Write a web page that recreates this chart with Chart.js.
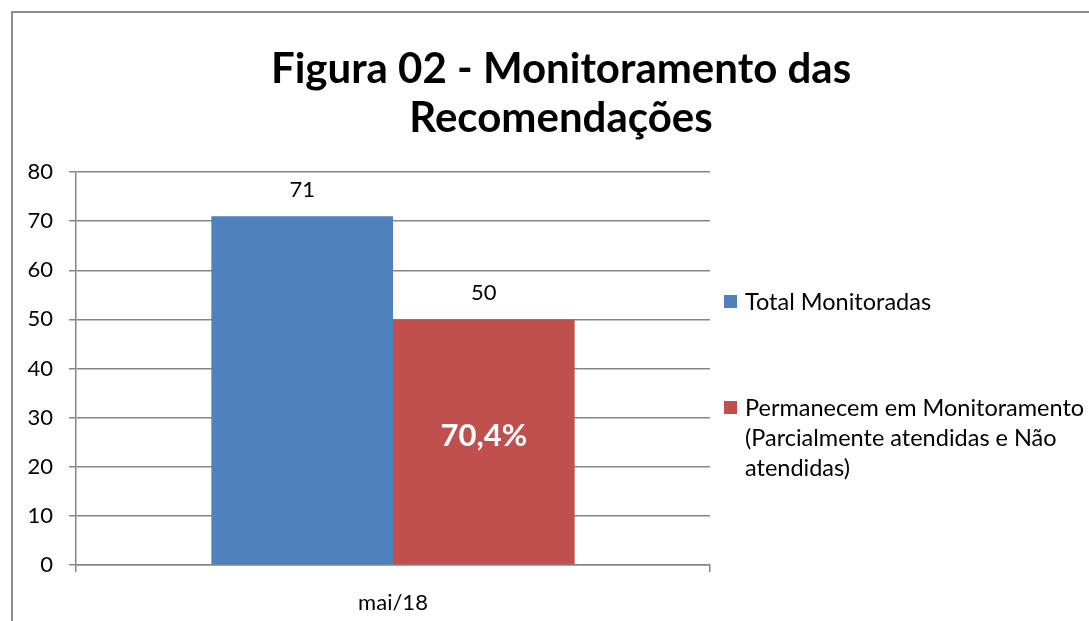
<!DOCTYPE html>
<html>
<head>
<meta charset="utf-8">
<script src="https://cdn.jsdelivr.net/npm/chart.js@4.4.0/dist/chart.umd.min.js"></script>
<style>
    html, body { margin: 0; padding: 0; background: #fff; overflow: hidden; }
    #frame {
        position: absolute; left: 11px; top: 11px;
        border-top: 2px solid #8c8c8c; border-left: 2px solid #8c8c8c;
    }
    #box { position: relative; width: 1096px; height: 608px; }
</style>
</head>
<body>
<div id="frame"><div id="box"><canvas id="chart"></canvas></div></div>
<script>
// --- Datos ---
const categorias = ["mai/18"];
const totalMonitoradas = [71];
const permanecem = [50];
const yTicks = [0, 10, 20, 30, 40, 50, 60, 70, 80];
const tituloLinhas = ["Figura 02 - Monitoramento das", "Recomendações"];
const legendaTotal = ["Total Monitoradas"];
const legendaPerm = ["Permanecem em Monitoramento", "(Parcialmente atendidas e Não", "atendidas)"];

const FONT = "Lato, 'Open Sans', sans-serif";
const GRID = "#868686";
const TXT = 22;

// porcentagem que permanece, tal como no original
const pct = (permanecem[0] / totalMonitoradas[0] * 100).toFixed(1).replace(".", ",") + "%";

// título, rótulos de valor e legenda desenhados à mão
const rotulos = {
    id: "rotulos",
    afterDatasetsDraw(chart) {
        const ctx = chart.ctx;
        ctx.save();
        ctx.textAlign = "center";
        ctx.textBaseline = "middle";
        chart.data.datasets.forEach((ds, i) => {
            chart.getDatasetMeta(i).data.forEach((bar, j) => {
                ctx.fillStyle = "#000";
                ctx.font = TXT + "px " + FONT;
                ctx.fillText(ds.data[j], bar.x, bar.y - 26);
            });
        });
        // porcentagem dentro da barra vermelha
        const red = chart.getDatasetMeta(1).data[0];
        ctx.fillStyle = "#fff";
        ctx.font = "bold 31px " + FONT;
        ctx.fillText(pct, red.x, (red.y + red.base) / 2 - 6);
        ctx.restore();
    },
    afterDraw(chart) {
        const ctx = chart.ctx;
        const a = chart.chartArea;
        ctx.save();
        // título centrado no quadro todo
        ctx.fillStyle = "#000";
        ctx.textAlign = "center";
        ctx.textBaseline = "middle";
        ctx.font = "bold 42px " + FONT;
        tituloLinhas.forEach((t, k) => ctx.fillText(t, chart.width / 2, 56 + k * 49));

        // legenda
        const bx = a.right + 14, tx = a.right + 35;
        const items = [
            { lines: legendaTotal, color: chart.data.datasets[0].backgroundColor, y: a.top + 130 },
            { lines: legendaPerm, color: chart.data.datasets[1].backgroundColor, y: a.top + 236 }
        ];
        ctx.font = "23.5px " + FONT;
        ctx.textAlign = "left";
        items.forEach(it => {
            ctx.fillStyle = it.color;
            ctx.fillRect(bx, it.y - 7, 13, 13);
            ctx.fillStyle = "#000";
            it.lines.forEach((t, k) => ctx.fillText(t, tx, it.y + k * 30));
        });
        ctx.restore();
    }
};

new Chart(document.getElementById("chart"), {
    type: "bar",
    data: {
        labels: categorias,
        datasets: [
            { label: legendaTotal.join(" "), data: totalMonitoradas, backgroundColor: "#4F81BD",
              categoryPercentage: 0.573, barPercentage: 1 },
            { label: legendaPerm.join(" "), data: permanecem, backgroundColor: "#C0504D",
              categoryPercentage: 0.573, barPercentage: 1 }
        ]
    },
    options: {
        responsive: true,
        maintainAspectRatio: false,
        animation: false,
        layout: { padding: { top: 159, right: 399, bottom: 0, left: 0 } },
        plugins: {
            legend: { display: false },
            tooltip: { enabled: false },
            title: { display: false }
        },
        scales: {
            x: {
                grid: { display: true, drawOnChartArea: false, drawTicks: true, tickLength: 7,
                        color: GRID, lineWidth: 1.5, offset: true },
                border: { display: true, color: GRID, width: 1.5 },
                ticks: { color: "#000", font: { family: FONT, size: TXT }, padding: 18 },
                afterFit: s => { s.height = 56; }
            },
            y: {
                min: 0, max: 80,
                afterBuildTicks: s => { s.ticks = yTicks.map(v => ({ value: v })); },
                grid: { color: GRID, lineWidth: 1.5, tickLength: 7 },
                border: { display: true, color: GRID, width: 1.5 },
                ticks: { color: "#000", font: { family: FONT, size: TXT }, padding: 16 },
                afterFit: s => { s.width = 63; }
            }
        }
    },
    plugins: [rotulos]
});
</script>
</body>
</html>
